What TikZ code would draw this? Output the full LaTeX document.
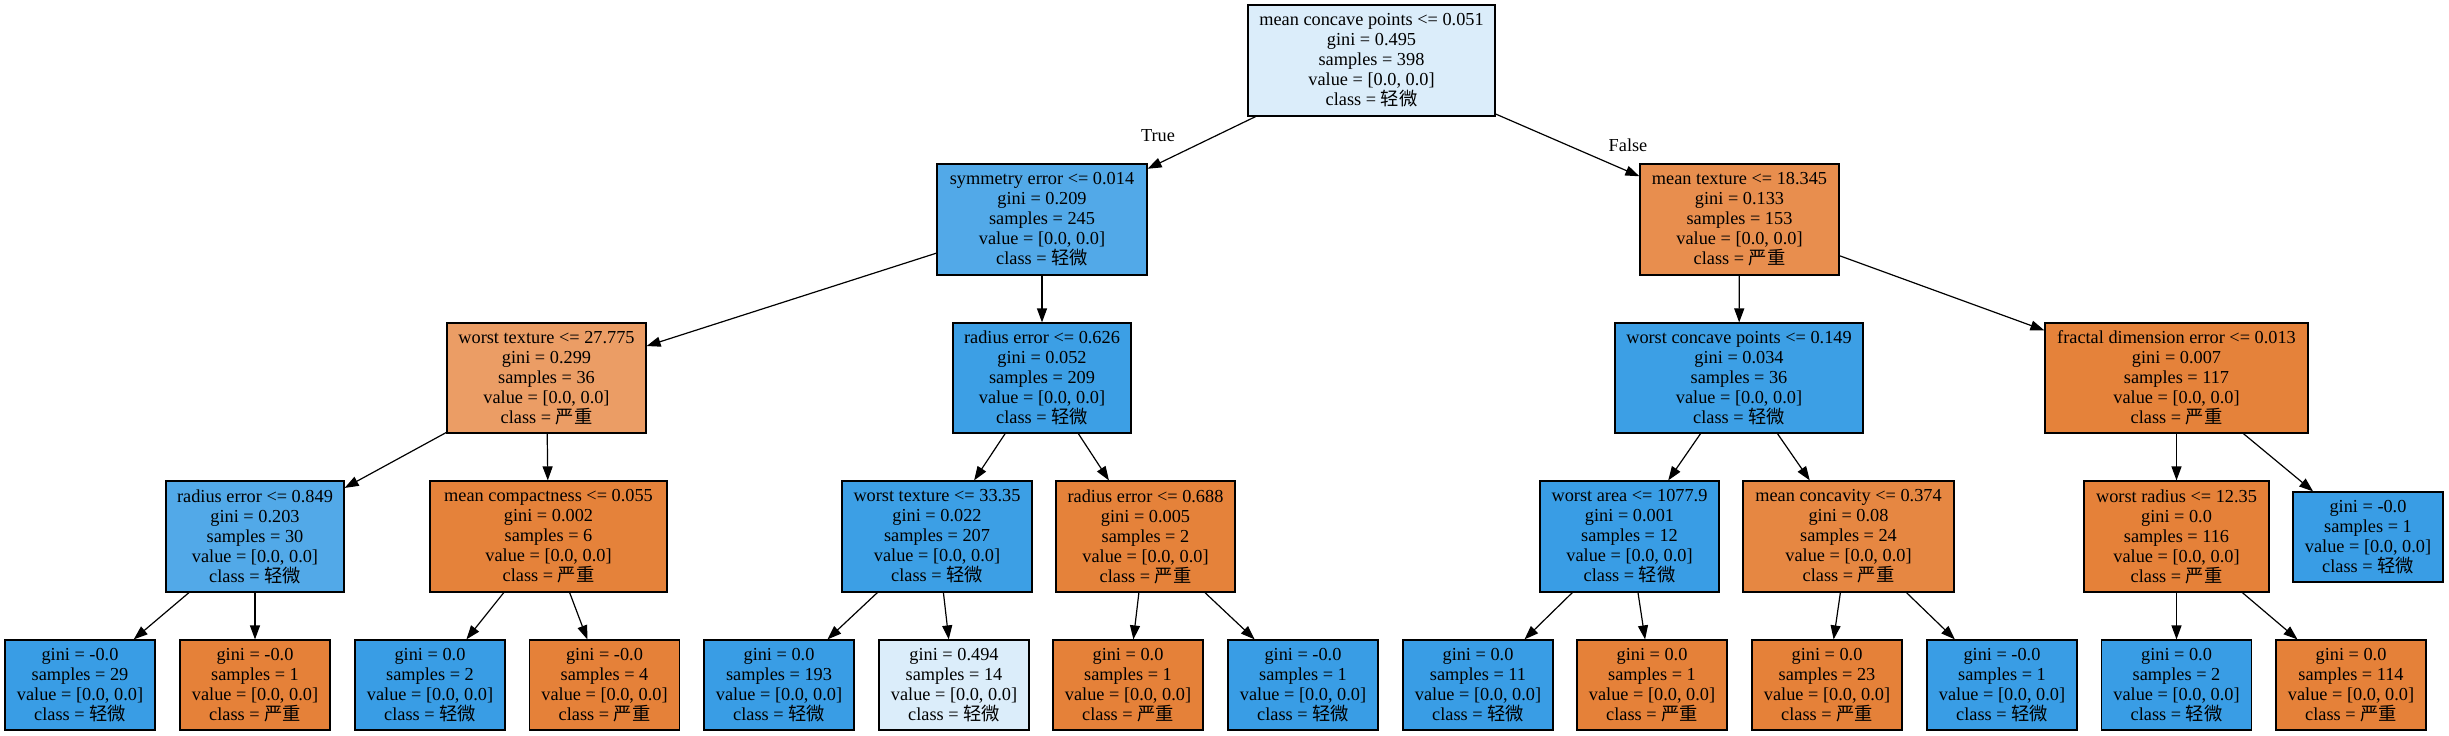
\documentclass[tikz,border=0pt]{standalone}
\usepackage{fontspec}
\setmainfont{Liberation Serif}
\newfontfamily\cjk{Noto Sans CJK SC}
\usetikzlibrary{arrows.meta}
\definecolor{cBlue}{HTML}{399DE5}
\definecolor{cBlueA}{HTML}{3C9FE5}
\definecolor{cBlueM}{HTML}{52A9E8}
\definecolor{cBlueL}{HTML}{DBEDFA}
\definecolor{cOr}{HTML}{E58139}
\definecolor{cOrA}{HTML}{E5823A}
\definecolor{cOrB}{HTML}{E68742}
\definecolor{cOrC}{HTML}{E88E4E}
\definecolor{cOrD}{HTML}{EB9D65}
\newcommand{\qingwei}{{\cjk 轻微}}
\newcommand{\yanzhong}{{\cjk 严重}}
\begin{document}
\begin{tikzpicture}[x=1pt,y=-1pt,
  box/.style={draw=black, line width=1.2pt, align=center, inner sep=0pt,
    font=\fontsize{18.3}{20}\selectfont},
  inner/.style={box, minimum height=111pt},
  leaf/.style={box, minimum width=150pt, minimum height=90pt},
  conn/.style={-{Triangle[length=14pt,width=10pt]}, line width=1.2pt},
  lbl/.style={font=\fontsize{18.3}{20}\selectfont, inner sep=0pt}]
\useasboundingbox (0,0) rectangle (2449,736);
% level 0
\node[inner, minimum width=247pt, fill=cBlueL] (root) at (1371.5,60.5)
  {mean concave points <= 0.051\\gini = 0.495\\samples = 398\\value = [0.0, 0.0]\\class = \qingwei};
% level 1
\node[inner, minimum width=210pt, fill=cBlueM] (n1) at (1042,219.5)
  {symmetry error <= 0.014\\gini = 0.209\\samples = 245\\value = [0.0, 0.0]\\class = \qingwei};
\node[inner, minimum width=199pt, fill=cOrC] (n2) at (1739.5,219.5)
  {mean texture <= 18.345\\gini = 0.133\\samples = 153\\value = [0.0, 0.0]\\class = \yanzhong};
% level 2
\node[inner, minimum width=199pt, minimum height=110pt, fill=cOrD] (n3) at (546.5,378)
  {worst texture <= 27.775\\gini = 0.299\\samples = 36\\value = [0.0, 0.0]\\class = \yanzhong};
\node[inner, minimum width=178pt, minimum height=110pt, fill=cBlueA] (n4) at (1042,378)
  {radius error <= 0.626\\gini = 0.052\\samples = 209\\value = [0.0, 0.0]\\class = \qingwei};
\node[inner, minimum width=248pt, minimum height=110pt, fill=cBlueA] (n5) at (1739,378)
  {worst concave points <= 0.149\\gini = 0.034\\samples = 36\\value = [0.0, 0.0]\\class = \qingwei};
\node[inner, minimum width=263pt, minimum height=110pt, fill=cOrA] (n6) at (2176.5,378)
  {fractal dimension error <= 0.013\\gini = 0.007\\samples = 117\\value = [0.0, 0.0]\\class = \yanzhong};
% level 3
\node[inner, minimum width=178pt, fill=cBlueM] (n7) at (255,536.5)
  {radius error <= 0.849\\gini = 0.203\\samples = 30\\value = [0.0, 0.0]\\class = \qingwei};
\node[inner, minimum width=237pt, fill=cOrA] (n8) at (548.5,536.5)
  {mean compactness <= 0.055\\gini = 0.002\\samples = 6\\value = [0.0, 0.0]\\class = \yanzhong};
\node[inner, minimum width=190pt, fill=cBlueA] (n9) at (937,536.5)
  {worst texture <= 33.35\\gini = 0.022\\samples = 207\\value = [0.0, 0.0]\\class = \qingwei};
\node[inner, minimum width=179pt, fill=cOrA] (n10) at (1145.5,536.5)
  {radius error <= 0.688\\gini = 0.005\\samples = 2\\value = [0.0, 0.0]\\class = \yanzhong};
\node[inner, minimum width=179pt, fill=cBlue] (n11) at (1629.5,536.5)
  {worst area <= 1077.9\\gini = 0.001\\samples = 12\\value = [0.0, 0.0]\\class = \qingwei};
\node[inner, minimum width=211pt, fill=cOrB] (n12) at (1848.5,536.5)
  {mean concavity <= 0.374\\gini = 0.08\\samples = 24\\value = [0.0, 0.0]\\class = \yanzhong};
\node[inner, minimum width=185pt, fill=cOr] (n13) at (2176.5,536.5)
  {worst radius <= 12.35\\gini = 0.0\\samples = 116\\value = [0.0, 0.0]\\class = \yanzhong};
\node[leaf, fill=cBlue] (n14) at (2368,537)
  {gini = -0.0\\samples = 1\\value = [0.0, 0.0]\\class = \qingwei};
% level 4
\node[leaf, fill=cBlue] (l1) at (80,685) {gini = -0.0\\samples = 29\\value = [0.0, 0.0]\\class = \qingwei};
\node[leaf, fill=cOr] (l2) at (255,685) {gini = -0.0\\samples = 1\\value = [0.0, 0.0]\\class = \yanzhong};
\node[leaf, fill=cBlue] (l3) at (430,685) {gini = 0.0\\samples = 2\\value = [0.0, 0.0]\\class = \qingwei};
\node[leaf, fill=cOr] (l4) at (604.5,685) {gini = -0.0\\samples = 4\\value = [0.0, 0.0]\\class = \yanzhong};
\node[leaf, fill=cBlue] (l5) at (779,685) {gini = 0.0\\samples = 193\\value = [0.0, 0.0]\\class = \qingwei};
\node[leaf, fill=cBlueL] (l6) at (954,685) {gini = 0.494\\samples = 14\\value = [0.0, 0.0]\\class = \qingwei};
\node[leaf, fill=cOr] (l7) at (1128,685) {gini = 0.0\\samples = 1\\value = [0.0, 0.0]\\class = \yanzhong};
\node[leaf, fill=cBlue] (l8) at (1303,685) {gini = -0.0\\samples = 1\\value = [0.0, 0.0]\\class = \qingwei};
\node[leaf, fill=cBlue] (l9) at (1478,685) {gini = 0.0\\samples = 11\\value = [0.0, 0.0]\\class = \qingwei};
\node[leaf, fill=cOr] (l10) at (1652,685) {gini = 0.0\\samples = 1\\value = [0.0, 0.0]\\class = \yanzhong};
\node[leaf, fill=cOr] (l11) at (1827,685) {gini = 0.0\\samples = 23\\value = [0.0, 0.0]\\class = \yanzhong};
\node[leaf, fill=cBlue] (l12) at (2002,685) {gini = -0.0\\samples = 1\\value = [0.0, 0.0]\\class = \qingwei};
\node[leaf, fill=cBlue] (l13) at (2176.5,685) {gini = 0.0\\samples = 2\\value = [0.0, 0.0]\\class = \qingwei};
\node[leaf, fill=cOr] (l14) at (2351,685) {gini = 0.0\\samples = 114\\value = [0.0, 0.0]\\class = \yanzhong};
% edge labels
\node[lbl] (tlabel) at (1158,136) {True};
\node[lbl] (flabel) at (1628,145) {False};
% connectors
\draw[conn] (root) -- (n1);
\draw[conn] (root) -- (n2);
\draw[conn] (n1) -- (n3);
\draw[conn] (n1) -- (n4);
\draw[conn] (n2) -- (n5);
\draw[conn] (n2) -- (n6);
\draw[conn] (n3) -- (n7);
\draw[conn] (n3) -- (n8);
\draw[conn] (n4) -- (n9);
\draw[conn] (n4) -- (n10);
\draw[conn] (n5) -- (n11);
\draw[conn] (n5) -- (n12);
\draw[conn] (n6) -- (n13);
\draw[conn] (n6) -- (n14);
\draw[conn] (n7) -- (l1);
\draw[conn] (n7) -- (l2);
\draw[conn] (n8) -- (l3);
\draw[conn] (n8) -- (l4);
\draw[conn] (n9) -- (l5);
\draw[conn] (n9) -- (l6);
\draw[conn] (n10) -- (l7);
\draw[conn] (n10) -- (l8);
\draw[conn] (n11) -- (l9);
\draw[conn] (n11) -- (l10);
\draw[conn] (n12) -- (l11);
\draw[conn] (n12) -- (l12);
\draw[conn] (n13) -- (l13);
\draw[conn] (n13) -- (l14);
\end{tikzpicture}
\end{document}
